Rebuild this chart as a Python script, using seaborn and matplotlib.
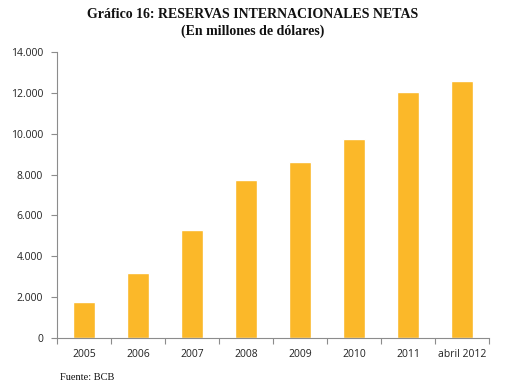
import matplotlib
matplotlib.use("Agg")
import matplotlib.pyplot as plt
import seaborn as sns
import pandas as pd
from matplotlib.ticker import FuncFormatter, MultipleLocator, FixedLocator

categories = ["2005", "2006", "2007", "2008", "2009", "2010", "2011", "abril 2012"]
values = [1762, 3180, 5290, 7730, 8610, 9740, 12040, 12580]

df = pd.DataFrame({"cat": categories, "val": values})

sns.set_style("white")
fig = plt.figure(figsize=(5.06, 3.92), dpi=100)
ax = fig.add_axes([57/506, (392-338)/392, (489-57)/506, (338-52)/392])

sns.barplot(data=df, x="cat", y="val", color="#FBB829", saturation=1, width=0.41, ax=ax)

ax.set_xlim(-0.5, len(categories) - 0.5)
ax.set_ylim(0, 14000)
ax.yaxis.set_major_locator(MultipleLocator(2000))
ax.yaxis.set_major_formatter(FuncFormatter(lambda v, p: f"{int(v):,}".replace(",", ".")))
ax.set_xlabel("")
ax.set_ylabel("")

for s in ["top", "right"]:
    ax.spines[s].set_visible(False)
for s in ["left", "bottom"]:
    ax.spines[s].set_color("#8c8c8c")
    ax.spines[s].set_linewidth(0.8)

ax.xaxis.set_minor_locator(FixedLocator([i - 0.5 for i in range(len(categories) + 1)]))
ax.tick_params(axis="x", which="major", length=0, pad=8, labelsize=7.5, labelcolor="#222222")
ax.tick_params(axis="x", which="minor", length=4, color="#8c8c8c", direction="out", width=0.8)
ax.tick_params(axis="y", which="major", length=4, color="#8c8c8c", direction="out", width=0.8,
               labelsize=7.5, labelcolor="#222222", pad=6)
ax.tick_params(axis="x", bottom=True, which="both")
ax.tick_params(axis="y", left=True)
for lab in ax.get_xticklabels() + ax.get_yticklabels():
    lab.set_family("Open Sans")

fig.text(253/506, 1 - 14/392, "Gráfico 16: RESERVAS INTERNACIONALES NETAS",
         ha="center", va="center", fontsize=10, fontweight="bold", family="Liberation Serif",
         color="#111111")
fig.text(253/506, 1 - 31/392, "(En millones de dólares)",
         ha="center", va="center", fontsize=10, fontweight="bold", family="Liberation Serif",
         color="#111111")
fig.text(60/506, 1 - 378/392, "Fuente: BCB", ha="left", va="center", fontsize=7.5,
         family="Liberation Serif", color="#111111")

fig.savefig("out.png", dpi=100, facecolor="white")
